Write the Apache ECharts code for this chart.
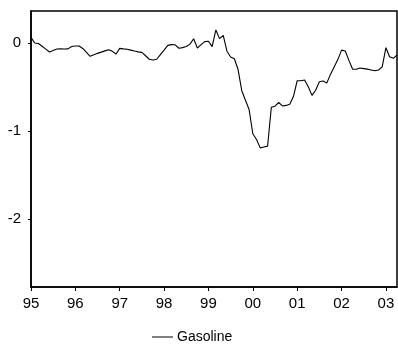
<!DOCTYPE html>
<html>
<head>
<meta charset="utf-8">
<script src="https://cdn.jsdelivr.net/npm/echarts@6/dist/echarts.min.js"></script>
<style>
  html, body { margin: 0; padding: 0; background: #fff; }
  #chart { width: 398px; height: 352px; }
</style>
</head>
<body>
<div id="chart"></div>
<script>
// Monthly series, 1995:01 onwards
const startYear = 1995;
const seriesName = 'Gasoline';
const gasoline = [
  0.065, 0.000, -0.005, -0.036, -0.069, -0.101, -0.085, -0.068, -0.066, -0.067, -0.066, -0.040,
  -0.034, -0.033, -0.061, -0.107, -0.151, -0.134, -0.117, -0.103, -0.089, -0.075, -0.094, -0.125,
  -0.060, -0.066, -0.070, -0.080, -0.091, -0.100, -0.106, -0.144, -0.184, -0.193, -0.184, -0.132,
  -0.080, -0.026, -0.018, -0.020, -0.059, -0.052, -0.039, -0.012, 0.049, -0.057, -0.018, 0.016,
  0.020, -0.040, 0.149, 0.050, 0.086, -0.093, -0.158, -0.178, -0.298, -0.538, -0.650, -0.755,
  -1.030, -1.095, -1.190, -1.180, -1.170, -0.730, -0.717, -0.675, -0.714, -0.708, -0.694, -0.605,
  -0.428, -0.428, -0.419, -0.497, -0.594, -0.536, -0.439, -0.430, -0.455, -0.356, -0.272, -0.188,
  -0.080, -0.090, -0.197, -0.297, -0.298, -0.284, -0.290, -0.296, -0.305, -0.315, -0.306, -0.270,
  -0.053, -0.155, -0.173, -0.136
];
const yTicks = [0, -1, -2];

// month categories such as "1995-01"
const months = gasoline.map((_, i) => {
  const y = startYear + Math.floor(i / 12);
  const m = (i % 12) + 1;
  return y + '-' + (m < 10 ? '0' + m : m);
});
const isJanuary = (idx) => idx % 12 === 0;
const shortYear = (cat) => cat.slice(2, 4);

const font = 'Liberation Sans, Arial, sans-serif';
const chart = echarts.init(document.getElementById('chart'), null, { renderer: 'canvas' });
chart.setOption({
  animation: false,
  backgroundColor: '#fff',
  grid: {
    left: 31, right: 1, top: 11, bottom: 65,
    show: true, borderColor: '#000', borderWidth: 1.5, backgroundColor: 'transparent'
  },
  xAxis: {
    type: 'category',
    data: months,
    boundaryGap: false,
    axisLine: { onZero: false, lineStyle: { color: '#000', width: 1.5 } },
    axisTick: { interval: (idx) => isJanuary(idx), length: 4, lineStyle: { color: '#000' } },
    axisLabel: {
      interval: (idx) => isJanuary(idx),
      formatter: shortYear,
      color: '#000', fontSize: 15, fontFamily: font, margin: 9
    },
    splitLine: { show: false }
  },
  yAxis: {
    type: 'value',
    min: -2.77, max: 0.364,
    axisLine: { show: true, onZero: false, lineStyle: { color: '#000', width: 1.5 } },
    axisTick: { show: true, customValues: yTicks, length: 3, lineStyle: { color: '#000' } },
    axisLabel: {
      customValues: yTicks,
      color: '#000', fontSize: 15, fontFamily: font, margin: 10
    },
    splitLine: { show: false }
  },
  legend: {
    data: [seriesName],
    left: 147, top: 325,
    icon: 'rect', itemWidth: 21, itemHeight: 1, itemGap: 0,
    textStyle: { color: '#000', fontSize: 14, fontFamily: font, padding: [0, 0, 0, -1] }
  },
  series: [{
    name: seriesName,
    type: 'line',
    data: gasoline,
    showSymbol: false,
    symbol: 'none',
    lineStyle: { color: '#000', width: 1.1 },
    itemStyle: { color: '#000' }
  }]
});
</script>
</body>
</html>
